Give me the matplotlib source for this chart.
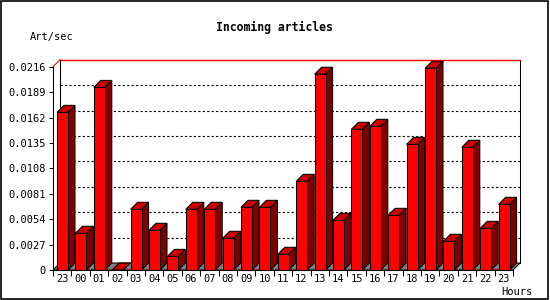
import matplotlib
matplotlib.use("Agg")
import matplotlib.pyplot as plt
from matplotlib.patches import Polygon, Rectangle
import numpy as np

# Incoming articles per hour (Art/sec)
hours = ['23', '00', '01', '02', '03', '04', '05', '06', '07', '08', '09', '10',
         '11', '12', '13', '14', '15', '16', '17', '18', '19', '20', '21', '22', '23']
rates = [0.01675, 0.0039, 0.0194, 0.0, 0.00645, 0.00422, 0.00145, 0.00645,
         0.00645, 0.00337, 0.00666, 0.00666, 0.00167, 0.00942, 0.0208, 0.00528,
         0.01495, 0.01527, 0.00581, 0.01335, 0.02143, 0.00305, 0.01304, 0.00443,
         0.00698]
yticks = [0, 0.0027, 0.0054, 0.0081, 0.0108, 0.0135, 0.0162, 0.0189, 0.0216]
ytick_labels = ['0', '0.0027', '0.0054', '0.0081', '0.0108', '0.0135',
                '0.0162', '0.0189', '0.0216']

plt.rcParams['font.family'] = ['DejaVu Sans Mono']
W, H = 550, 300
fig = plt.figure(figsize=(W / 100, H / 100), dpi=100)
fig.patch.set_facecolor('white')
ax = fig.add_axes([53 / W, 30 / H, 460 / W, 203.3 / H])
n = len(rates)
ymax = yticks[-1]
ax.set_xlim(0, n)
ax.set_ylim(0, ymax)
ax.patch.set_visible(False)

# 3d depth in data units (7 px each way)
px_x = n / 460.0
px_y = ymax / 203.3
dx, dy = 7 * px_x, 7 * px_y
lw = 0.75

# back wall
ax.add_patch(Rectangle((dx, dy), n, ymax, facecolor='white', edgecolor='black',
                       lw=lw, clip_on=False, zorder=0.5))
for v in yticks[1:-1]:
    ax.plot([dx, n + dx], [v + dy, v + dy], color='black', lw=0.8,
            ls=(0, (2, 2)), clip_on=False, zorder=0.6)
ax.plot([dx, n + dx], [ymax + dy, ymax + dy], color='red', lw=1.0,
        clip_on=False, zorder=0.7)
ax.plot([0, dx], [ymax, ymax + dy], color='red', lw=lw, clip_on=False, zorder=0.7)
ax.plot([dx, dx], [dy, ymax + dy], color='black', lw=lw, clip_on=False, zorder=0.7)

# floor
ax.add_patch(Polygon([(0, 0), (n, 0), (n + dx, dy), (dx, dy)], closed=True,
                     facecolor='#808080', edgecolor='black', lw=lw,
                     clip_on=False, zorder=0.8))

# bars
off, bw = 4 * px_x, 11 * px_x
for i, v in enumerate(rates):
    x0 = i + off
    x1 = x0 + bw
    ax.add_patch(Polygon([(x1, 0), (x1 + dx, dy), (x1 + dx, v + dy), (x1, v)],
                         closed=True, facecolor='#800000', edgecolor='black',
                         lw=lw, clip_on=False, zorder=2))
    ax.add_patch(Polygon([(x0, v), (x1, v), (x1 + dx, v + dy), (x0 + dx, v + dy)],
                         closed=True, facecolor='#cc0000', edgecolor='black',
                         lw=lw, clip_on=False, zorder=2))
ax.bar(np.arange(n) + off, rates, width=bw, align='edge', color='red',
       edgecolor='black', lw=lw, zorder=3, clip_on=False)

# axes and ticks
for s in ['top', 'right']:
    ax.spines[s].set_visible(False)
for s in ['left', 'bottom']:
    ax.spines[s].set_linewidth(lw)
    ax.spines[s].set_zorder(4)
ax.set_yticks(yticks)
ax.set_yticklabels(ytick_labels, fontsize=7.5)
ax.tick_params(axis='y', length=3, width=lw, pad=2)
ax.set_xticks(np.arange(n + 1))
ax.set_xticklabels([])
ax.set_xticks(np.arange(n) + 0.5, minor=True)
ax.set_xticklabels(hours, minor=True, fontsize=7.5)
ax.tick_params(axis='x', which='major', length=4, width=lw)
ax.tick_params(axis='x', which='minor', length=0, pad=3)

fig.text(274 / W, 1 - 27 / H, 'Incoming articles', ha='center', va='center',
         fontsize=8.3, fontweight='bold')
fig.text(30 / W, 1 - 37 / H, 'Art/sec', ha='left', va='center', fontsize=7.5)
fig.text(533 / W, 1 - 292 / H, 'Hours', ha='right', va='center', fontsize=7.5)

# outer frame
fig.patches.append(Rectangle((0.5 / W, 1.5 / H), 547.5 / W, 297.5 / H,
                             transform=fig.transFigure, fill=False,
                             edgecolor='black', lw=1.2))

fig.savefig('out.png', dpi=100)
